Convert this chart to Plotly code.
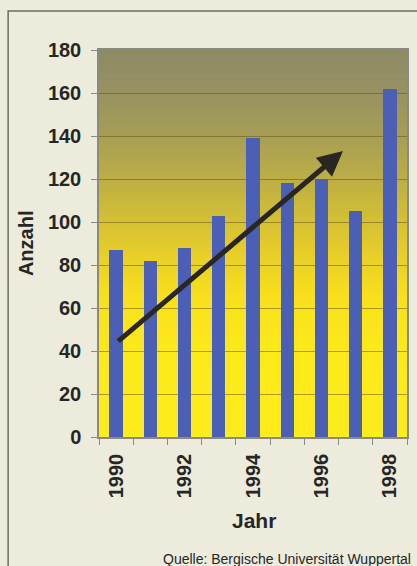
import plotly.graph_objects as go

# ---- data ----
years = [1990, 1991, 1992, 1993, 1994, 1995, 1996, 1997, 1998]
anzahl = [87, 82, 88, 103, 139, 118, 120, 105, 162]
x_tick_vals = [1990, 1992, 1994, 1996, 1998]
x_tick_text = ["1990", "1992", "1994", "1996", "1998"]
y_tick_vals = [0, 20, 40, 60, 80, 100, 120, 140, 160, 180]
trend_start = (1990.02, 44)
trend_end = (1996.63, 133)

FONT = "Liberation Sans, Arial, sans-serif"
PAGE_BG = "#ecebdc"
BAR = "#4b5fb6"
TXT = "#262626"

fig = go.Figure()
fig.add_trace(go.Bar(x=years, y=anzahl, width=0.39, marker=dict(color=BAR, line=dict(width=0)),
                     showlegend=False, hoverinfo="x+y"))

# gradient background for the plot area
stops = [(0, (253, 236, 28)), (40, (252, 233, 26)), (65, (248, 224, 28)),
         (85, (232, 206, 40)), (105, (206, 188, 56)), (125, (182, 170, 74)),
         (145, (162, 154, 88)), (165, (148, 144, 98)), (180, (140, 138, 102))]

def col(v):
    for (a, ca), (b, cb) in zip(stops[:-1], stops[1:]):
        if a <= v <= b:
            t = (v - a) / (b - a)
            c = [round(ca[i] + (cb[i] - ca[i]) * t) for i in range(3)]
            return f"rgb({c[0]},{c[1]},{c[2]})"
    return "rgb(140,138,102)"

shapes = []
step = 2
v = 0
while v < 180:
    shapes.append(dict(type="rect", xref="x domain", yref="y", x0=0, x1=1, y0=v, y1=v + step + 0.3,
                       fillcolor=col(v + step / 2), line=dict(width=0), layer="below"))
    v += step

# outer frame
shapes.append(dict(type="rect", xref="paper", yref="paper", x0=-0.295, x1=1.2, y0=-0.5, y1=1.1008,
                   line=dict(color="#6e6c63", width=1.5), fillcolor="rgba(0,0,0,0)", layer="below"))

annotations = [
    dict(x=trend_end[0], y=trend_end[1], ax=trend_start[0], ay=trend_start[1],
         xref="x", yref="y", axref="x", ayref="y", text="", showarrow=True,
         arrowhead=2, arrowsize=1.0, arrowwidth=5, arrowcolor="#2a2722"),
    dict(x=-0.237, y=0.501, xref="paper", yref="paper", text="Anzahl", showarrow=False,
         textangle=-90, xanchor="center", yanchor="middle",
         font=dict(family=FONT, size=20, color=TXT, weight="bold")),
    dict(x=0.503, y=-0.2145, xref="paper", yref="paper", text="Jahr", showarrow=False,
         xanchor="center", yanchor="middle",
         font=dict(family=FONT, size=21, color=TXT, weight="bold")),
    dict(x=1.019, y=-0.314, xref="paper", yref="paper", text="Quelle: Bergische Universität Wuppertal",
         showarrow=False, xanchor="right", yanchor="middle",
         font=dict(family=FONT, size=14, color=TXT)),
]

fig.update_layout(
    width=417, height=566,
    margin=dict(l=99, r=10, t=50, b=129, autoexpand=False),
    paper_bgcolor=PAGE_BG, plot_bgcolor="#fdec1c",
    shapes=shapes, annotations=annotations,
    bargap=0,
    xaxis=dict(range=[1989.5, 1998.5], tickmode="array", tickvals=x_tick_vals, ticktext=x_tick_text,
               tickangle=-90, ticks="", showgrid=False, zeroline=False,
               showline=True, linecolor="#8a8a84", linewidth=1.5, mirror=True,
               tickfont=dict(family=FONT, size=20, color=TXT, weight="bold"),
               ticklabelstandoff=7,
               minor=dict(ticks="outside", tick0=1989.5, dtick=1, ticklen=6, tickcolor="#8a8a84",
                          tickwidth=1, showgrid=False),
               fixedrange=True),
    yaxis=dict(range=[0, 180], tickmode="array", tickvals=y_tick_vals, ticks="outside", ticklen=6,
               tickcolor="#8a8a84", showgrid=True, gridcolor="rgba(95,80,20,0.5)", gridwidth=1,
               zeroline=False, showline=True, linecolor="#8a8a84", linewidth=1.5, mirror=True,
               tickfont=dict(family=FONT, size=20, color=TXT, weight="bold"),
               ticklabelstandoff=6, fixedrange=True),
)

fig.write_html("out.html", config={"displayModeBar": False})
